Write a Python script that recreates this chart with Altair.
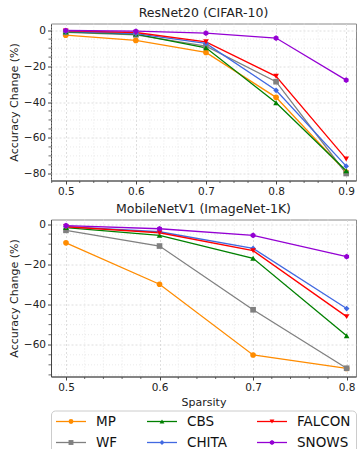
import altair as alt
import pandas as pd

methods = ["MP", "WF", "CBS", "CHITA", "FALCON", "SNOWS"]
colors = ["#ff8c00", "#808080", "#008000", "#4169e1", "#ff0000", "#9400d3"]
hexagon = "M0,-1L0.866,-0.5L0.866,0.5L0,1L-0.866,0.5L-0.866,-0.5Z"
shapes = ["circle", "square", "triangle-up", "diamond", "triangle-down", hexagon]

# ResNet20 (CIFAR-10)
sparsity_top = [0.5, 0.6, 0.7, 0.8, 0.9]
top_mp = [-2.8, -5.7, -12.4, -37.4, -79.0]
top_wf = [-1.2, -2.6, -8.9, -28.7, -79.8]
top_cbs = [-0.9, -2.2, -9.8, -40.4, -78.3]
top_chita = [-0.7, -1.9, -7.4, -33.5, -75.7]
top_falcon = [-0.4, -1.3, -6.5, -25.7, -71.7]
top_snows = [-0.2, -0.6, -1.7, -4.4, -27.8]

# MobileNetV1 (ImageNet-1K)
sparsity_bot = [0.5, 0.6, 0.7, 0.8]
bot_mp = [-9.3, -29.9, -65.1, -71.8]
bot_wf = [-3.1, -10.9, -42.6, -71.7]
bot_cbs = [-1.7, -5.6, -17.0, -55.5]
bot_chita = [-1.2, -3.8, -12.1, -42.0]
bot_falcon = [-1.3, -4.3, -13.2, -46.0]
bot_snows = [-0.7, -2.3, -5.6, -16.2]

top_x_ticks = [0.5, 0.6, 0.7, 0.8, 0.9]
top_y_ticks = [0, -20, -40, -60, -80]
bot_x_ticks = [0.5, 0.6, 0.7, 0.8]
bot_y_ticks = [0, -20, -40, -60]


def long_df(xs, series):
    rows = []
    for order, (m, vals) in enumerate(zip(methods, series)):
        for x, v in zip(xs, vals):
            rows.append({"s": x, "acc": v, "method": m, "order": order})
    return pd.DataFrame(rows)


df_top = long_df(sparsity_top, [top_mp, top_wf, top_cbs, top_chita, top_falcon, top_snows])
df_bot = long_df(sparsity_bot, [bot_mp, bot_wf, bot_cbs, bot_chita, bot_falcon, bot_snows])

FONT = "DejaVu Sans"
W = 305
H = 157


def minor_values(lo, hi, step, majors):
    out = []
    k = 0
    while True:
        v = round(lo + k * step, 4)
        if v > hi + 1e-9:
            break
        if all(abs(v - m) > 1e-6 for m in majors):
            out.append(v)
        k += 1
    return out


def panel(df, xdom, ydom, xticks, yticks, title, xtitle):
    xs = alt.Scale(domain=xdom, nice=False, zero=False)
    ys = alt.Scale(domain=ydom, nice=False, zero=False)
    xaxis = alt.Axis(values=xticks, format=".1f", grid=True, labelOverlap=False)
    yaxis = alt.Axis(values=yticks, grid=True, labelOverlap=False)
    X = lambda f: alt.X(f, scale=xs, title=xtitle, axis=xaxis)
    Y = lambda f: alt.Y(f, scale=ys, title="Accuracy Change (%)", axis=yaxis)

    xminor = pd.DataFrame({"s": minor_values(0.48, xdom[1], 0.02, xticks)})
    xminor = xminor[(xminor.s > xdom[0]) & (xminor.s < xdom[1])]
    yminor = pd.DataFrame({"acc": minor_values(-85, 5, 5, yticks)})
    yminor = yminor[(yminor.acc > ydom[0]) & (yminor.acc < ydom[1])]

    gx = alt.Chart(xminor).mark_rule(color="#e4e4e4", strokeWidth=0.8, strokeDash=[1, 2]).encode(
        x=X("s:Q"))
    gy = alt.Chart(yminor).mark_rule(color="#e4e4e4", strokeWidth=0.8, strokeDash=[1, 2]).encode(
        y=Y("acc:Q"))
    tx = alt.Chart(xminor).mark_rule(color="#444", strokeWidth=0.8).encode(
        x=X("s:Q"), y=alt.value(H), y2=alt.value(H + 2.5))
    ty = alt.Chart(yminor).mark_rule(color="#444", strokeWidth=0.8).encode(
        y=Y("acc:Q"), x=alt.value(0), x2=alt.value(-2.5))
    color = alt.Color("method:N", scale=alt.Scale(domain=methods, range=colors), legend=None)
    shape = alt.Shape("method:N", scale=alt.Scale(domain=methods, range=shapes), legend=None)
    lines = alt.Chart(df).mark_line(strokeWidth=1.3).encode(
        x=X("s:Q"), y=Y("acc:Q"), color=color, detail="method:N", order="order:Q")
    pts = alt.Chart(df).mark_point(filled=True, size=32, opacity=1).encode(
        x=X("s:Q"), y=Y("acc:Q"), color=color, shape=shape, order="order:Q")
    return alt.layer(gx, gy, tx, ty, lines, pts).properties(
        width=W, height=H,
        title=alt.TitleParams(title, fontSize=12.5, fontWeight="normal", font=FONT,
                              color="#222", offset=4),
        view=alt.ViewBackground(stroke="#8a8a8a", strokeWidth=1),
    )


top = panel(df_top, [0.479, 0.914], [-83.7, 3.7], top_x_ticks, top_y_ticks,
            "ResNet20 (CIFAR-10)", None)
bot = panel(df_bot, [0.484, 0.810], [-75.8, 2.3], bot_x_ticks, bot_y_ticks,
            "MobileNetV1 (ImageNet-1K)", "Sparsity")

# legend laid out like matplotlib's 3-column legend (column-major order)
col_x = [5, 96, 206]
row_y = [11, 32]
leg_rows = []
for i, m in enumerate(methods):
    c, r = i // 2, i % 2
    leg_rows.append({"method": m, "x0": col_x[c], "x1": col_x[c] + 30,
                     "xm": col_x[c] + 15, "xt": col_x[c] + 40, "y": row_y[r]})
leg_df = pd.DataFrame(leg_rows)
lx = alt.Scale(domain=[0, W], range=[0, W])
ly = alt.Scale(domain=[0, 45], range=[0, 45])
lcolor = alt.Color("method:N", scale=alt.Scale(domain=methods, range=colors), legend=None)
lshape = alt.Shape("method:N", scale=alt.Scale(domain=methods, range=shapes), legend=None)
leg_line = alt.Chart(leg_df).mark_rule(strokeWidth=1.3).encode(
    x=alt.X("x0:Q", scale=lx, axis=None), x2="x1:Q",
    y=alt.Y("y:Q", scale=ly, axis=None), color=lcolor)
leg_pt = alt.Chart(leg_df).mark_point(filled=True, size=24, opacity=1).encode(
    x=alt.X("xm:Q", scale=lx, axis=None), y=alt.Y("y:Q", scale=ly, axis=None),
    color=lcolor, shape=lshape)
leg_txt = alt.Chart(leg_df).mark_text(align="left", baseline="middle", fontSize=13.5,
                                      font=FONT, color="#111").encode(
    x=alt.X("xt:Q", scale=lx, axis=None), y=alt.Y("y:Q", scale=ly, axis=None),
    text="method:N")
legend = alt.layer(leg_line, leg_pt, leg_txt).properties(
    width=W, height=45,
    view=alt.ViewBackground(stroke="#cccccc", strokeWidth=1, cornerRadius=4),
)

panels = alt.vconcat(top, bot, spacing=4)
chart = alt.vconcat(panels, legend, spacing=1).properties(
    padding={"left": 7, "top": 5.5, "right": 0, "bottom": 0}
).configure_axis(
    labelFont=FONT, titleFont=FONT, labelFontSize=10.5, titleFontSize=11,
    labelColor="#222", titleColor="#222", domainColor="#444", tickColor="#444",
    tickSize=3.5, labelPadding=2, titlePadding=4, titleFontWeight="normal",
    gridColor="#d6d6d6", gridDash=[2, 2], gridWidth=0.8,
)

chart.save("out.html", embed_options={"renderer": "svg", "actions": False})
